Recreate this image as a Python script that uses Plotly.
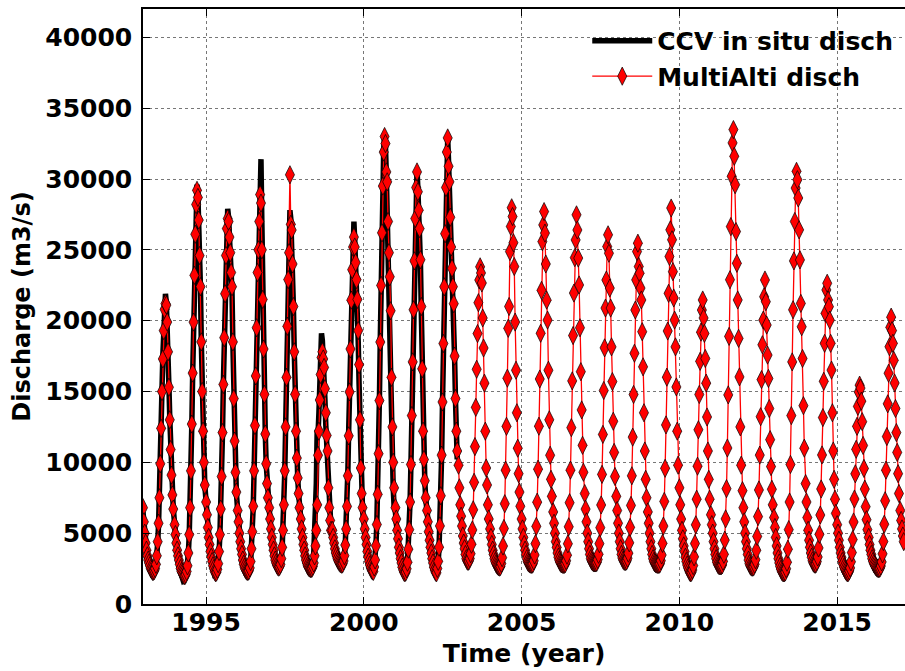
import plotly.graph_objects as go

# ---------------- data (10-day samples per year, m3/s) ----------------
alti_1993 = [6800, 5800, 5000, 4300, 3800, 3400, 3100, 2900, 2700, 2500, 2400, 2300, 2300, 2350, 2500, 2800, 3400, 4400, 5700, 7500, 9900, 12400, 15000, 17300, 19300, 20800, 21200, 21100, 19900, 17800, 15300, 13000, 10900, 9100, 7700, 6700]
alti_1994 = [5600, 4900, 4300, 3800, 3400, 3100, 2800, 2500, 2300, 2200, 2100, 2000, 2000, 2100, 2300, 2700, 3600, 4900, 6800, 9400, 12700, 16300, 19900, 23200, 26100, 28200, 29200, 28700, 27100, 24600, 22400, 18500, 15000, 12200, 10000, 8400]
alti_1995 = [7200, 6300, 5400, 4700, 4200, 3700, 3300, 3000, 2700, 2500, 2300, 2200, 2250, 2450, 2850, 3700, 4900, 6700, 9000, 12100, 15500, 18800, 21900, 24600, 26500, 27200, 27000, 25900, 24800, 23400, 22400, 18500, 14500, 11500, 9300, 7900]
alti_1996 = [6600, 5800, 5000, 4400, 3900, 3500, 3100, 2800, 2600, 2450, 2350, 2300, 2300, 2350, 2550, 3000, 3900, 5100, 6900, 9400, 12600, 16100, 19500, 23400, 25000, 27000, 28900, 28300, 25000, 21500, 18000, 14800, 12000, 9900, 8500, 7500]
alti_1997 = [6800, 6000, 5300, 4700, 4200, 3800, 3400, 3100, 2900, 2750, 2650, 2600, 2650, 2800, 3200, 4000, 5200, 7000, 9400, 12500, 16000, 19600, 22900, 24800, 30300, 26800, 26400, 24000, 21000, 17800, 14800, 12200, 10300, 8900, 7800, 6800]
alti_1998 = [6000, 5300, 4700, 4200, 3800, 3400, 3100, 2900, 2700, 2600, 2550, 2500, 2500, 2530, 2660, 2900, 3400, 4100, 5200, 7000, 10500, 12200, 14400, 16200, 17400, 17800, 17300, 16700, 15200, 13500, 11900, 10800, 8200, 6800, 5900, 5200]
alti_1999 = [5200, 4700, 4300, 3900, 3600, 3400, 3200, 3050, 2950, 2880, 2830, 2800, 2850, 3040, 3410, 4160, 5290, 6890, 9050, 11870, 14970, 18000, 21450, 23600, 25200, 25900, 25200, 24100, 22900, 21500, 19300, 16900, 13000, 9600, 7800, 6800]
alti_2000 = [6000, 5300, 4700, 4200, 3700, 3300, 3000, 2750, 2550, 2400, 2330, 2300, 2610, 3110, 4110, 5610, 7740, 10610, 14360, 18490, 22490, 26200, 29500, 31900, 33000, 32500, 30500, 29800, 27000, 24800, 23100, 20700, 16000, 12500, 10000, 8200]
alti_2001 = [6800, 6000, 5200, 4600, 4000, 3600, 3200, 2900, 2600, 2400, 2250, 2200, 2260, 2490, 2950, 3870, 5250, 7200, 9850, 13300, 17090, 20770, 24220, 27210, 29400, 30500, 29100, 27800, 26500, 24300, 21000, 16600, 12200, 10200, 8700, 7500]
alti_2002 = [6600, 5800, 5100, 4500, 4000, 3600, 3200, 2900, 2600, 2400, 2250, 2200, 2510, 3010, 4010, 5510, 7640, 10510, 14260, 18390, 22390, 26140, 29400, 31900, 32900, 30900, 29800, 27300, 25200, 23700, 22400, 21200, 17500, 14500, 12200, 10800]
alti_2003 = [9800, 8200, 7000, 6200, 5500, 4800, 4300, 3900, 3500, 3200, 3050, 3000, 3040, 3210, 3550, 4220, 5230, 6650, 8590, 11110, 13880, 16570, 19090, 21270, 22870, 23800, 23370, 22660, 20190, 18070, 15590, 12200, 9600, 8400, 7000, 6000]
alti_2004 = [5300, 4700, 4200, 3800, 3500, 3200, 3000, 2850, 2750, 2680, 2630, 2600, 2650, 2860, 3270, 4090, 5330, 7080, 9450, 12540, 15940, 19460, 21000, 24880, 26650, 27970, 27350, 25500, 23820, 19900, 16500, 13500, 11000, 9200, 7900, 6900]
alti_2005 = [6000, 5300, 4700, 4200, 3800, 3500, 3200, 3000, 2900, 2850, 2820, 2800, 2800, 2850, 3050, 3460, 4260, 5480, 7190, 9520, 12550, 15880, 19110, 22140, 25580, 26760, 27700, 26180, 24000, 21450, 20040, 16500, 13000, 10500, 8800, 7600]
alti_2006 = [6500, 5700, 5000, 4400, 4000, 3600, 3300, 3100, 2950, 2870, 2830, 2800, 2800, 2800, 2850, 3050, 3450, 4250, 5450, 7150, 9450, 12450, 15750, 18950, 21950, 24450, 25700, 27470, 26400, 24420, 22520, 19500, 16400, 13700, 11200, 9300]
alti_2007 = [7800, 6700, 5800, 5000, 4400, 3900, 3500, 3200, 3050, 2970, 2920, 2900, 2900, 2900, 2950, 3140, 3510, 4260, 5390, 6990, 9150, 11970, 15070, 18080, 20890, 22870, 25230, 26060, 24760, 22300, 20890, 18150, 15700, 12900, 10700, 9000]
alti_2008 = [7600, 6600, 5700, 5000, 4400, 3900, 3500, 3250, 3100, 3030, 3000, 3000, 3050, 3230, 3590, 4320, 5410, 6960, 9050, 11780, 14790, 17700, 20750, 22880, 24880, 25470, 23820, 23350, 22300, 21460, 19220, 16740, 13500, 10800, 8800, 7500]
alti_2009 = [6500, 5700, 5000, 4400, 3900, 3500, 3200, 3000, 2900, 2850, 2820, 2800, 2800, 2800, 2850, 3060, 3460, 4280, 5500, 7240, 9580, 12640, 16010, 19270, 21930, 24530, 26410, 27950, 25710, 23460, 21600, 20040, 18150, 15320, 12200, 9800]
alti_2010 = [8200, 7000, 6000, 5200, 4600, 4100, 3700, 3300, 3000, 2750, 2550, 2400, 2250, 2200, 2240, 2400, 2710, 3330, 4270, 5590, 7400, 9730, 12300, 14790, 17130, 19190, 20750, 21460, 20190, 19100, 17330, 15590, 13200, 10800, 8800, 7400]
alti_2011 = [6300, 5600, 5000, 4400, 3900, 3500, 3200, 2950, 2800, 2730, 2700, 2700, 2700, 2760, 3010, 3510, 4510, 6010, 8140, 11010, 14760, 18890, 22890, 26640, 30190, 32550, 33490, 31600, 29600, 26290, 24050, 21460, 18750, 16030, 12500, 9800]
alti_2012 = [8000, 6800, 5800, 5000, 4400, 3900, 3500, 3100, 2850, 2700, 2630, 2600, 2600, 2640, 2810, 3130, 3790, 4770, 6170, 8050, 10510, 13220, 15840, 18300, 20040, 21690, 22870, 21340, 19690, 17570, 15920, 13800, 11600, 9700, 8100, 7000]
alti_2013 = [6100, 5400, 4700, 4100, 3600, 3200, 2900, 2650, 2450, 2300, 2230, 2200, 2200, 2260, 2490, 2950, 3870, 5250, 7200, 9850, 13300, 17090, 20770, 24220, 27000, 29360, 30540, 29950, 28660, 26410, 24290, 21220, 19570, 17330, 14000, 11000]
alti_2014 = [8500, 7200, 6100, 5200, 4500, 4000, 3600, 3300, 3050, 2900, 2830, 2800, 2840, 3000, 3320, 3960, 4920, 6280, 8120, 10520, 13160, 15720, 18400, 20520, 22170, 22640, 21460, 20990, 20040, 18400, 16510, 13500, 10800, 8800, 7400, 6400]
alti_2015 = [5600, 5000, 4500, 4000, 3600, 3300, 3000, 2800, 2600, 2450, 2330, 2250, 2200, 2230, 2340, 2550, 2980, 3630, 4550, 5790, 7410, 9190, 10920, 12540, 13950, 14970, 15450, 15240, 14320, 12870, 11190, 9570, 8110, 6870, 5950, 5250]
alti_2016 = [4700, 4200, 3800, 3500, 3200, 3000, 2850, 2750, 2650, 2580, 2530, 2500, 2500, 2540, 2680, 2970, 3540, 4410, 5630, 7290, 9450, 11820, 14130, 16290, 18160, 19530, 20250, 19300, 18400, 17200, 15600, 13800, 12100, 10700, 9200, 7800]
alti_2017 = [6600, 5900, 5300, 4800, 4400]

insitu_1993 = [6500, 5600, 4800, 4200, 3700, 3300, 3000, 2800, 2600, 2400, 2300, 2200, 2200, 2300, 2450, 2750, 3350, 4300, 5600, 7400, 9800, 12500, 15200, 17600, 19600, 21200, 21900, 21300, 20000, 17900, 15400, 13100, 11000, 9200, 7800, 6800]
insitu_1994 = [5700, 4900, 4200, 3600, 3100, 2700, 2400, 2100, 1900, 1750, 1650, 1700, 1800, 2000, 2300, 2700, 3600, 4900, 6800, 9400, 12700, 16300, 19900, 23300, 26300, 28600, 29600, 28900, 27200, 24700, 22300, 18400, 15000, 12200, 10000, 8400]
insitu_1995 = [7200, 6200, 5300, 4600, 4000, 3500, 3000, 2600, 2300, 2100, 2000, 2000, 2100, 2400, 2850, 3700, 4900, 6700, 9000, 12100, 15600, 19000, 22200, 25000, 27000, 27900, 27300, 26000, 24700, 23300, 22000, 18300, 14400, 11500, 9300, 7900]
insitu_1996 = [6600, 5700, 4900, 4300, 3800, 3300, 2900, 2600, 2400, 2200, 2100, 2100, 2200, 2300, 2500, 2900, 3800, 5000, 6800, 9300, 12500, 16000, 19800, 23000, 23000, 25000, 28000, 31400, 27000, 22000, 18000, 14800, 12000, 9900, 8500, 7500]
insitu_1997 = [6800, 5900, 5200, 4600, 4100, 3700, 3300, 3000, 2800, 2650, 2550, 2500, 2600, 2750, 3150, 3950, 5150, 6900, 9300, 12400, 15900, 19500, 22800, 25800, 27800, 27200, 25600, 23800, 21000, 17800, 14800, 12200, 10300, 8900, 7800, 6800]
insitu_1998 = [6000, 5300, 4700, 4200, 3800, 3400, 3100, 2900, 2700, 2550, 2450, 2400, 2450, 2600, 2900, 3500, 4600, 6200, 8500, 12300, 12000, 13500, 16000, 18000, 19100, 18600, 17600, 16200, 14400, 12600, 11000, 9300, 7800, 6600, 5800, 5300]
insitu_1999 = [4800, 4400, 4000, 3700, 3400, 3200, 3000, 2850, 2750, 2650, 2600, 2600, 2700, 2950, 3400, 4200, 5400, 7100, 9400, 12400, 15600, 18800, 22000, 25000, 26200, 27000, 25600, 24200, 22600, 20800, 18500, 15500, 12000, 9300, 7600, 6600]
insitu_2000 = [5800, 5100, 4500, 4000, 3500, 3100, 2800, 2550, 2400, 2300, 2300, 2350, 2700, 3200, 4200, 5700, 7900, 10800, 14500, 18700, 22700, 28000, 29800, 32200, 33000, 32300, 30300, 27500, 24000, 20500, 16500, 13200, 11000, 9300, 8100, 6900]
insitu_2001 = [6500, 5700, 5000, 4400, 3900, 3400, 3000, 2700, 2450, 2300, 2200, 2150, 2250, 2500, 2950, 3900, 5300, 7300, 10000, 13500, 17300, 21000, 24500, 27500, 29800, 30700, 29300, 27800, 26300, 24000, 20500, 16200, 12200, 10200, 8700, 7500]
insitu_2002 = [6400, 5600, 4900, 4300, 3800, 3400, 3000, 2700, 2450, 2300, 2200, 2150, 2500, 3000, 4000, 5500, 7600, 10500, 14300, 18400, 22400, 26200, 29500, 32000, 32900, 31200, 29500, 27300, 25200, 23700, 22200, 20800, 17300, 14400, 12100, 10200]

alti_years = {1993: alti_1993, 1994: alti_1994, 1995: alti_1995, 1996: alti_1996,
              1997: alti_1997, 1998: alti_1998, 1999: alti_1999, 2000: alti_2000,
              2001: alti_2001, 2002: alti_2002, 2003: alti_2003, 2004: alti_2004,
              2005: alti_2005, 2006: alti_2006, 2007: alti_2007, 2008: alti_2008,
              2009: alti_2009, 2010: alti_2010, 2011: alti_2011, 2012: alti_2012,
              2013: alti_2013, 2014: alti_2014, 2015: alti_2015, 2016: alti_2016,
              2017: alti_2017}
insitu_years = {1993: insitu_1993, 1994: insitu_1994, 1995: insitu_1995,
                1996: insitu_1996, 1997: insitu_1997, 1998: insitu_1998,
                1999: insitu_1999, 2000: insitu_2000, 2001: insitu_2001,
                2002: insitu_2002}

y_ticks = [0, 5000, 10000, 15000, 20000, 25000, 30000, 35000, 40000]
x_ticks = [1995, 2000, 2005, 2010, 2015]


def to_series(by_year):
    t, v = [], []
    for yr, vals in by_year.items():
        for k, val in enumerate(vals):
            t.append(yr + 10 * k / 365.25)  # 10-day sampling from 1 January
            v.append(val)
    return t, v


t_alti, q_alti = to_series(alti_years)
t_ins, q_ins = to_series(insitu_years)

FONT = "DejaVu Sans"
FS = 25

fig = go.Figure()
fig.add_trace(go.Scatter(
    x=t_ins, y=q_ins, mode="lines", name="CCV in situ disch",
    line=dict(color="black", width=5.5)))
fig.add_trace(go.Scatter(
    x=t_alti, y=q_alti, mode="lines+markers", name="MultiAlti disch",
    line=dict(color="#ff0000", width=1.3),
    marker=dict(symbol="diamond-tall", size=13, color="#ff0000",
                line=dict(color="black", width=0.7))))

fig.update_layout(
    width=908, height=671,
    margin=dict(l=143, r=3, t=9, b=67),
    paper_bgcolor="white", plot_bgcolor="white",
    font=dict(family=FONT, size=FS, color="black", weight="bold"),
    showlegend=True,
    legend=dict(x=0.583, y=0.985, xanchor="left", yanchor="top",
                bgcolor="rgba(255,255,255,0)", borderwidth=0,
                font=dict(family=FONT, size=FS, color="black", weight="bold"),
                itemwidth=60, tracegroupgap=4),
    xaxis=dict(range=[1993.0, 2017.15], tickvals=x_ticks,
               ticktext=[str(v) for v in x_ticks],
               showline=True, linecolor="black", linewidth=1.5, mirror="ticks",
               ticks="inside", ticklen=7, tickcolor="black",
               showgrid=True, gridcolor="#777777", griddash="dot", gridwidth=1,
               zeroline=False, ticklabelstandoff=-5,
               tickfont=dict(family=FONT, size=FS, weight="bold"),
               title=dict(text="Time (year)", standoff=9,
                          font=dict(family=FONT, size=FS, weight="bold"))),
    yaxis=dict(range=[0, 42000], tickvals=y_ticks,
               ticktext=[str(v) for v in y_ticks],
               showline=True, linecolor="black", linewidth=1.5, mirror=False,
               ticks="inside", ticklen=7, tickcolor="black",
               showgrid=True, gridcolor="#777777", griddash="dot", gridwidth=1,
               zeroline=False, ticklabelstandoff=4,
               tickfont=dict(family=FONT, size=FS, weight="bold"),
               title=dict(text="Discharge (m3/s)", standoff=8,
                          font=dict(family=FONT, size=24, weight="bold"))),
)

fig.write_html(
    "out.html",
    config={"displayModeBar": False},
    post_script="document.body.style.margin='0px';"
                "document.body.style.overflow='hidden';")
